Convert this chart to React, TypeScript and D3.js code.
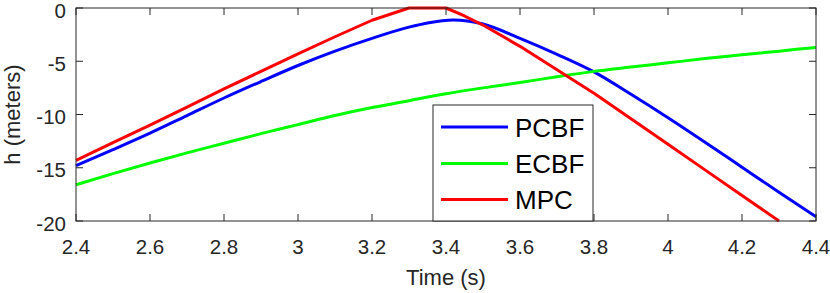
import React from 'react';
import * as d3 from 'd3';

// values (time in s, h in meters)
const timePCBF = [2.4, 2.5, 2.6, 2.7, 2.8, 2.9, 3.0, 3.1, 3.2, 3.3, 3.35, 3.42, 3.5, 3.6, 3.7, 3.8, 3.9, 4.0, 4.1, 4.2, 4.3, 4.4];
const hPCBF = [-14.8, -13.3, -11.75, -10.1, -8.45, -6.9, -5.4, -4.05, -2.85, -1.8, -1.4, -1.12, -1.5, -2.85, -4.35, -6.0, -8.1, -10.3, -12.6, -14.95, -17.3, -19.6];

const timeECBF = [2.4, 2.5, 2.6, 2.7, 2.8, 2.9, 3.0, 3.1, 3.2, 3.3, 3.4, 3.5, 3.6, 3.7, 3.8, 3.9, 4.0, 4.1, 4.2, 4.3, 4.4];
const hECBF = [-16.6, -15.55, -14.55, -13.6, -12.7, -11.8, -10.95, -10.1, -9.35, -8.7, -8.05, -7.5, -7.0, -6.45, -5.95, -5.55, -5.15, -4.75, -4.4, -4.05, -3.7];

const timeMPC = [2.4, 2.5, 2.6, 2.7, 2.8, 2.9, 3.0, 3.1, 3.2, 3.3, 3.4, 3.45, 3.5, 3.6, 3.7, 3.8, 3.9, 4.0, 4.1, 4.2, 4.3];
const hMPC = [-14.3, -12.65, -11.0, -9.3, -7.6, -5.95, -4.3, -2.7, -1.15, 0, 0, -0.75, -1.6, -3.6, -5.8, -8.0, -10.4, -12.8, -15.2, -17.6, -20.0];

const xTicks = [2.4, 2.6, 2.8, 3, 3.2, 3.4, 3.6, 3.8, 4, 4.2, 4.4];
const yTicks = [0, -5, -10, -15, -20];

const seriesNames = ['PCBF', 'ECBF', 'MPC'];
const seriesColors = ['#0000ff', '#00ff00', '#ff0000'];

const W = 830, H = 293;
const left = 76, right = 816, top = 8, bottom = 221;
const axisColor = '#262626';
const font = '"Liberation Sans", Arial, Helvetica, sans-serif';

const App = () => {
    const x = d3.scaleLinear().domain([2.4, 4.4]).range([left, right]);
    const y = d3.scaleLinear().domain([-20, 0]).range([bottom, top]);

    const smooth = d3.line<[number, number]>()
        .x(d => x(d[0]))
        .y(d => y(d[1]))
        .curve(d3.curveMonotoneX);
    const straight = d3.line<[number, number]>()
        .x(d => x(d[0]))
        .y(d => y(d[1]));

    const zip = (t: number[], h: number[]) => t.map((v, i) => [v, h[i]] as [number, number]);
    const paths = [
        smooth(zip(timePCBF, hPCBF)),
        smooth(zip(timeECBF, hECBF)),
        straight(zip(timeMPC, hMPC)),
    ];

    const tickLen = 7;
    const legX = 433, legY = 105, legW = 160, legH = 116;
    const rowY = [127, 163.5, 199.5];

    return (
        <svg width={W} height={H} style={{ position: 'absolute', left: 0, top: 0 }}>
            <rect x={0} y={0} width={W} height={H} fill="#fff" />

            {paths.map((p, i) => (
                <path key={i} d={p || ''} fill="none" stroke={seriesColors[i]} strokeWidth={3} strokeLinejoin="round" />
            ))}

            {/* box and inward ticks */}
            <rect x={left} y={top} width={right - left} height={bottom - top} fill="none" stroke={axisColor} strokeWidth={1} />
            {xTicks.map(t => (
                <g key={'x' + t}>
                    <line x1={x(t)} x2={x(t)} y1={bottom} y2={bottom - tickLen} stroke={axisColor} />
                    <line x1={x(t)} x2={x(t)} y1={top} y2={top + tickLen} stroke={axisColor} />
                    <text x={x(t)} y={254} textAnchor="middle" fontFamily={font} fontSize={20.5} fill={axisColor}>{t}</text>
                </g>
            ))}
            {yTicks.map(t => (
                <g key={'y' + t}>
                    <line x1={left} x2={left + tickLen} y1={y(t)} y2={y(t)} stroke={axisColor} />
                    <line x1={right} x2={right - tickLen} y1={y(t)} y2={y(t)} stroke={axisColor} />
                    <text x={66} y={y(t) + 9.5} textAnchor="end" fontFamily={font} fontSize={20.5} fill={axisColor}>{t}</text>
                </g>
            ))}

            <text x={(left + right) / 2} y={285} textAnchor="middle" fontFamily={font} fontSize={22} fill={axisColor}>Time (s)</text>
            <text transform={`translate(20,${(top + bottom) / 2}) rotate(-90)`} textAnchor="middle" fontFamily={font} fontSize={22} fill={axisColor}>h (meters)</text>

            {/* legend */}
            <rect x={legX} y={legY} width={legW} height={legH} fill="#fff" stroke={axisColor} strokeWidth={1} />
            {seriesNames.map((name, i) => (
                <g key={name}>
                    <line x1={441} x2={508} y1={rowY[i]} y2={rowY[i]} stroke={seriesColors[i]} strokeWidth={3} />
                    <text x={515} y={rowY[i] + 9.5} fontFamily={font} fontSize={26} fill="#000">{name}</text>
                </g>
            ))}
        </svg>
    );
};

export default App;
